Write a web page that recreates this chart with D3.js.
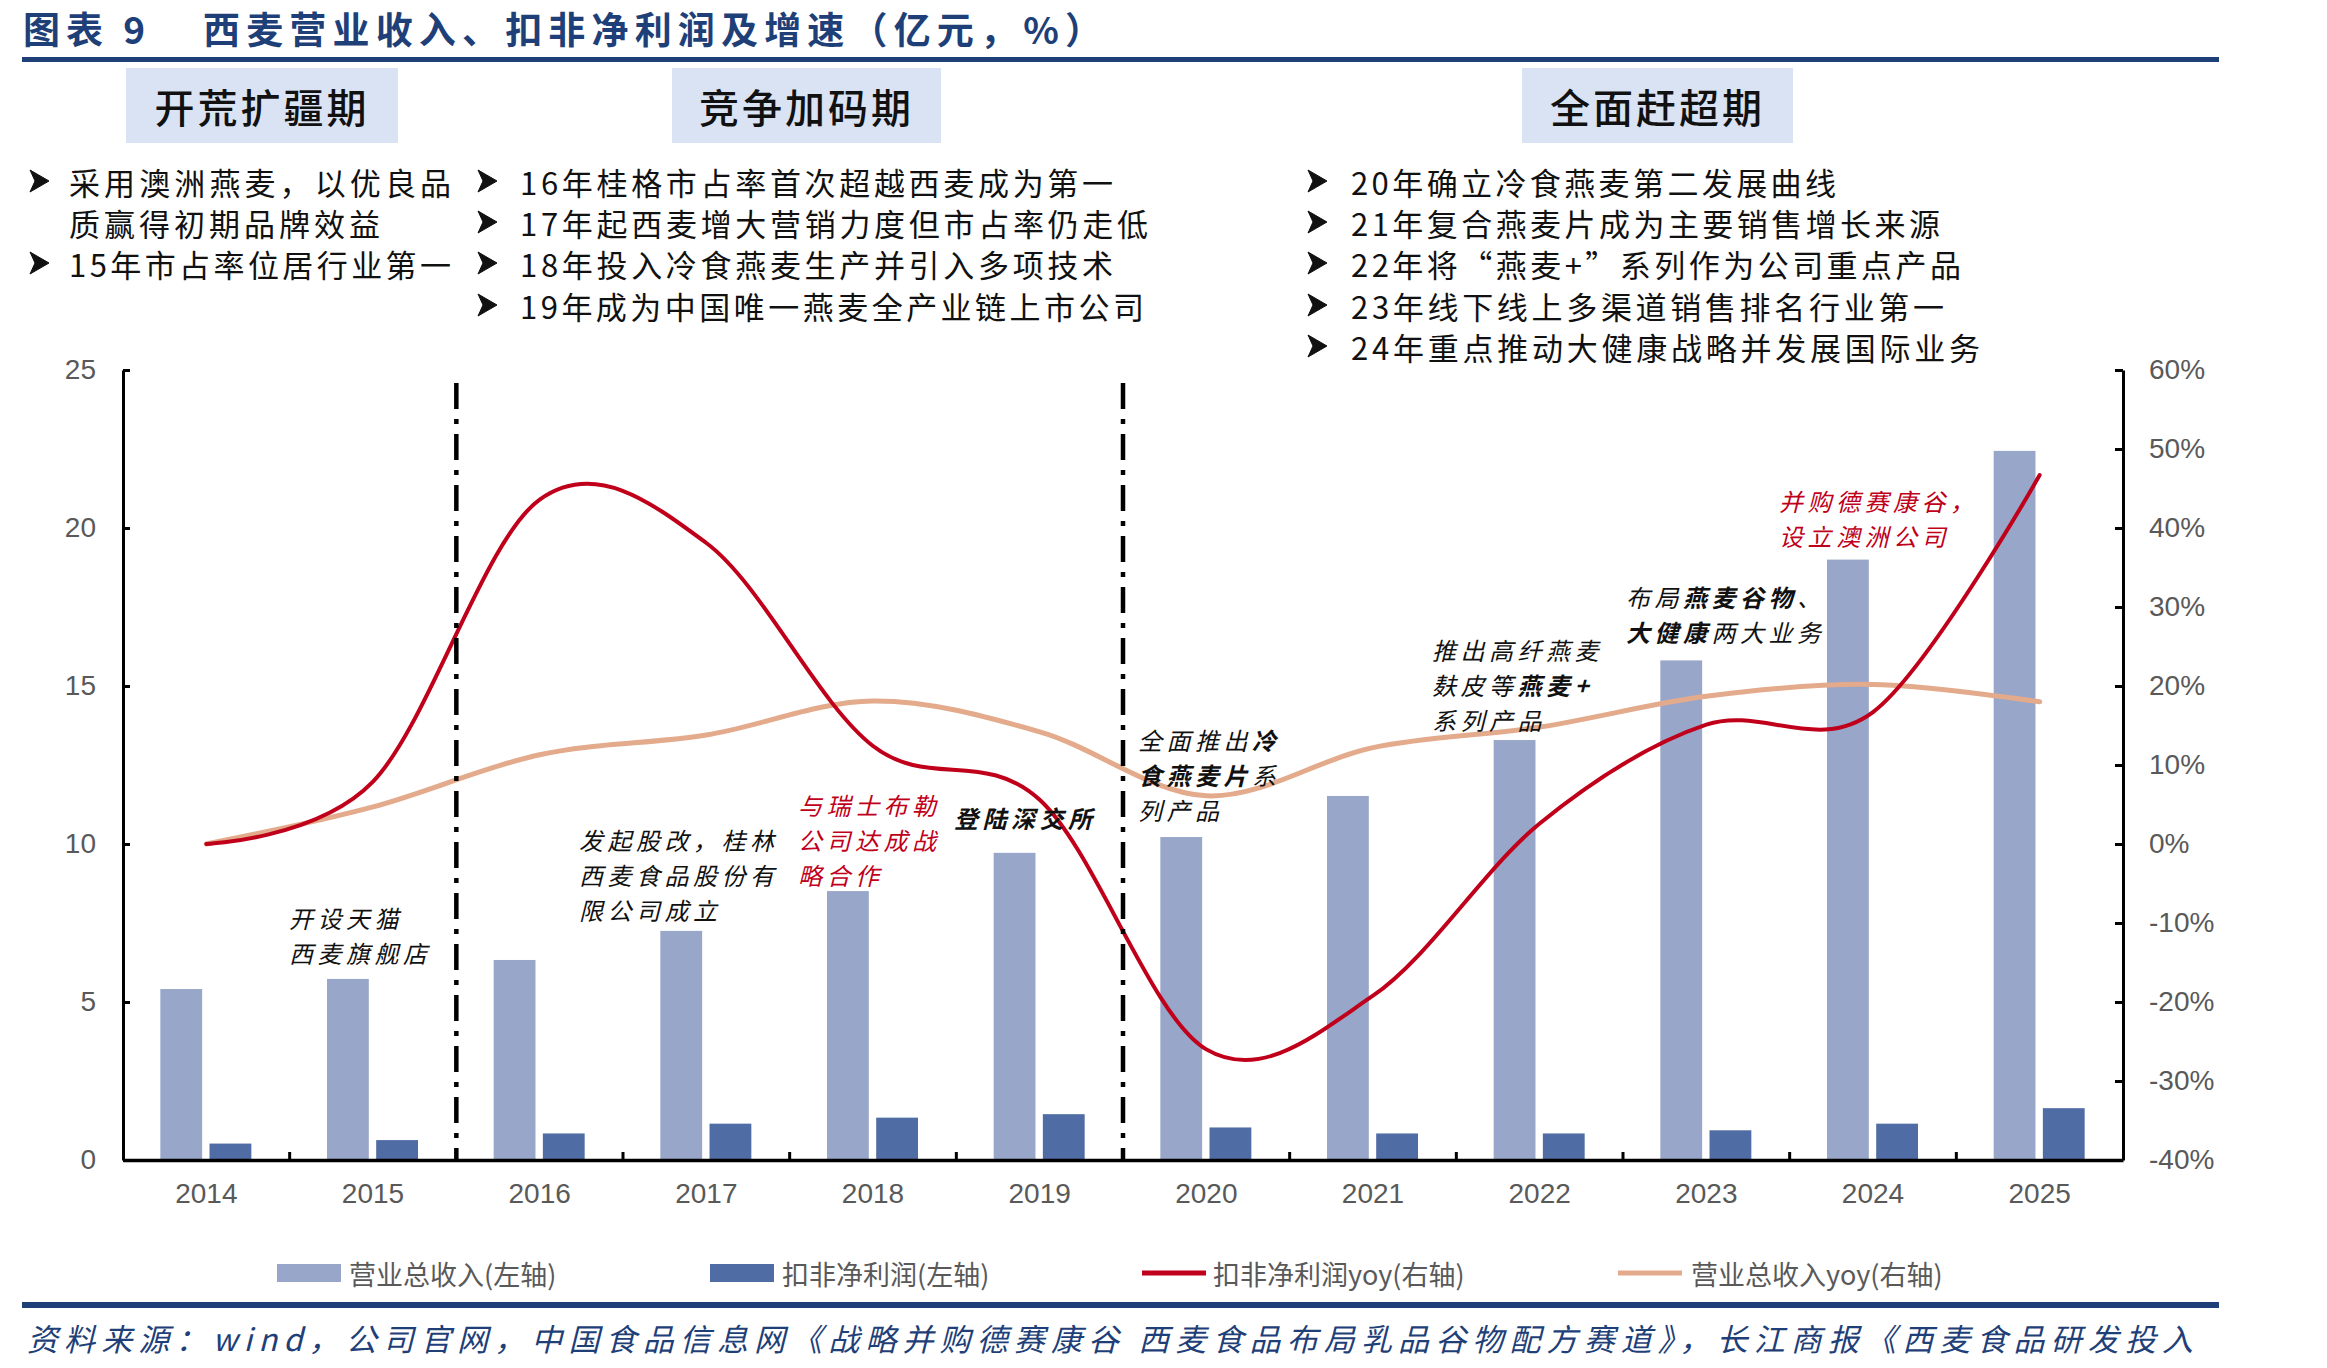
<!doctype html>
<html lang="zh">
<head>
  <meta charset="utf-8">
  <style>
    body {
      margin: 0;
      background-color: white;
    }
    svg {
      display: block;
      background-color: white;
    }
    .cjk {
      font-family: "Noto Sans CJK SC", sans-serif;
    }
    .axis text {
      font-family: "Liberation Sans", Arial, sans-serif;
      font-size: 28px;
      fill: #595959;
    }
    .axis path, .axis line {
      stroke: #000;
    }
  </style>
</head>
<body>
<script src="https://d3js.org/d3.v7.min.js"></script>
<script>
var width = 2327,
    height = 1368;

// chart values (亿元, %)
var years = ["2014", "2015", "2016", "2017", "2018", "2019", "2020", "2021", "2022", "2023", "2024", "2025"];
var revenue = [5.41, 5.73, 6.33, 7.25, 8.51, 9.72, 10.22, 11.52, 13.29, 15.81, 19.0, 22.44];
var netProfit = [0.52, 0.63, 0.84, 1.15, 1.34, 1.45, 1.03, 0.84, 0.84, 0.94, 1.15, 1.64];
var netProfitYoy = [0, 7.9, 43.6, 38.1, 12.4, 5.6, -26.0, -19.2, 2.6, 15.1, 16.7, 46.7];
var revenueYoy = [0, 4.7, 11.3, 13.8, 18.1, 14.2, 6.1, 12.2, 14.8, 18.7, 20.2, 18.0];

var leftTicks = [0, 5, 10, 15, 20, 25];
var rightTicks = [-40, -30, -20, -10, 0, 10, 20, 30, 40, 50, 60];

var seriesNames = ["营业总收入(左轴)", "扣非净利润(左轴)", "扣非净利润yoy(右轴)", "营业总收入yoy(右轴)"];

var titleLabel = "图表 9";
var titleText = "西麦营业收入、扣非净利润及增速（亿元，%）";
var sourceText = "资料来源：wind，公司官网，中国食品信息网《战略并购德赛康谷 西麦食品布局乳品谷物配方赛道》，长江商报《西麦食品研发投入";

var stages = ["开荒扩疆期", "竞争加码期", "全面赶超期"];
var stage1Lines = ["采用澳洲燕麦，以优良品", "质赢得初期品牌效益", "15年市占率位居行业第一"];
var stage2Lines = ["16年桂格市占率首次超越西麦成为第一", "17年起西麦增大营销力度但市占率仍走低",
  "18年投入冷食燕麦生产并引入多项技术", "19年成为中国唯一燕麦全产业链上市公司"];
var stage3Lines = ["20年确立冷食燕麦第二发展曲线", "21年复合燕麦片成为主要销售增长来源",
  "22年将“燕麦+”系列作为公司重点产品", "23年线下线上多渠道销售排名行业第一",
  "24年重点推动大健康战略并发展国际业务"];

var colors = {
  rev: "#97a6c9",
  np: "#506ca4",
  npYoy: "#c0001a",
  revYoy: "#e3aa8b",
  navy: "#1f3f78",
  gray: "#595959",
  box: "#dae3f3"
};

var svg = d3.select("body").append("svg")
  .attr("width", width)
  .attr("height", height);

// ---------- header ----------
svg.append("text")
  .attr("class", "cjk")
  .attr("x", 23).attr("y", 28)
  .attr("dominant-baseline", "central")
  .attr("font-size", 37).attr("font-weight", 700)
  .attr("fill", colors.navy)
  .attr("textLength", 122).attr("lengthAdjust", "spacing")
  .text(titleLabel);

svg.append("text")
  .attr("class", "cjk")
  .attr("x", 203).attr("y", 28)
  .attr("dominant-baseline", "central")
  .attr("font-size", 37).attr("font-weight", 700)
  .attr("fill", colors.navy)
  .attr("textLength", 899).attr("lengthAdjust", "spacing")
  .text(titleText);

svg.append("rect")
  .attr("x", 22).attr("y", 57)
  .attr("width", 2197).attr("height", 5)
  .attr("fill", colors.navy);

// stage boxes
var boxes = [[126, 272], [672, 269], [1522, 271]];
stages.forEach(function(s, i) {
  svg.append("rect")
    .attr("x", boxes[i][0]).attr("y", 68)
    .attr("width", boxes[i][1]).attr("height", 75)
    .attr("fill", colors.box);
  svg.append("text")
    .attr("class", "cjk")
    .attr("x", boxes[i][0] + boxes[i][1] / 2).attr("y", 106)
    .attr("text-anchor", "middle")
    .attr("dominant-baseline", "central")
    .attr("font-size", 40).attr("font-weight", 500)
    .attr("letter-spacing", 3)
    .attr("fill", "#111")
    .text(s);
});

// bullet lists
var rowY = [181, 222, 263, 305, 346];
function bulletList(lines, arrowX, textX, widths, noArrow) {
  lines.forEach(function(t, i) {
    if (!noArrow || noArrow.indexOf(i) < 0) {
      svg.append("path")
        .attr("transform", "translate(" + arrowX + "," + rowY[i] + ")")
        .attr("d", "M0,-11L19,0L0,11L5,0Z")
        .attr("fill", "#111")
        .attr("stroke", "#111")
        .attr("stroke-width", 1);
    }
    svg.append("text")
      .attr("class", "cjk")
      .attr("x", textX).attr("y", rowY[i])
      .attr("dominant-baseline", "central")
      .attr("font-size", 31)
      .attr("fill", "#111")
      .attr("textLength", widths[i]).attr("lengthAdjust", "spacing")
      .text(t);
  });
}
bulletList(stage1Lines, 30, 69, [382, 311, 382], [1]);
bulletList(stage2Lines, 478, 520, [593, 628, 593, 624]);
bulletList(stage3Lines, 1308, 1351, [485, 589, 610, 593, 629]);

// ---------- chart ----------
var plotLeft = 123, plotRight = 2123, plotTop = 370, plotBottom = 1160;

var x = d3.scaleBand().domain(years).range([plotLeft, plotRight]).padding(0);
var x1 = d3.scaleBand().domain(["rev", "np"])
  .range([x.bandwidth() / 2 - 46, x.bandwidth() / 2 + 45])
  .paddingInner(0.15);
var yL = d3.scaleLinear().domain([0, 25]).range([plotBottom, plotTop]);
var yR = d3.scaleLinear().domain([-40, 60]).range([plotBottom, plotTop]);

var rows = years.map(function(y, i) {
  return { year: y, rev: revenue[i], np: netProfit[i], npYoy: netProfitYoy[i], revYoy: revenueYoy[i] };
});

var g = svg.append("g");

// bars
g.append("g").selectAll("rect")
  .data(rows).enter().append("rect")
  .attr("x", function(d) { return x(d.year) + x1("rev"); })
  .attr("y", function(d) { return yL(d.rev); })
  .attr("width", x1.bandwidth())
  .attr("height", function(d) { return yL(0) - yL(d.rev); })
  .attr("fill", colors.rev);

g.append("g").selectAll("rect")
  .data(rows).enter().append("rect")
  .attr("x", function(d) { return x(d.year) + x1("np"); })
  .attr("y", function(d) { return yL(d.np); })
  .attr("width", x1.bandwidth())
  .attr("height", function(d) { return yL(0) - yL(d.np); })
  .attr("fill", colors.np);

// smoothed yoy lines (excel style smoothing ~ catmull-rom)
function yoyLine(key) {
  return d3.line()
    .x(function(d) { return x(d.year) + x.bandwidth() / 2; })
    .y(function(d) { return yR(d[key]); })
    .curve(d3.curveCardinal.tension(0));
}

g.append("path")
  .datum(rows)
  .attr("d", yoyLine("revYoy"))
  .attr("fill", "none")
  .attr("stroke", colors.revYoy)
  .attr("stroke-width", 5)
  .attr("stroke-linecap", "round");

g.append("path")
  .datum(rows)
  .attr("d", yoyLine("npYoy"))
  .attr("fill", "none")
  .attr("stroke", colors.npYoy)
  .attr("stroke-width", 4)
  .attr("stroke-linecap", "round");

// stage dividers
[2, 6].forEach(function(i) {
  var xd = x(years[i]);
  g.append("line")
    .attr("x1", xd).attr("x2", xd)
    .attr("y1", 383).attr("y2", plotBottom)
    .attr("stroke", "#000")
    .attr("stroke-width", 4.5)
    .attr("stroke-dasharray", "26,10,5,10");
});

// axes
var axL = d3.axisLeft(yL).tickValues(leftTicks).tickSizeInner(-7).tickSizeOuter(0).tickPadding(27);
var axR = d3.axisRight(yR).tickValues(rightTicks).tickFormat(function(d) { return d + "%"; })
  .tickSizeInner(-8).tickSizeOuter(0).tickPadding(26);
var axB = d3.axisBottom(x).tickSize(0).tickPadding(23);

svg.append("g").attr("class", "axis")
  .attr("transform", "translate(" + plotLeft + ",0)")
  .call(axL)
  .call(function(s) { s.select(".domain").attr("stroke-width", 3); s.selectAll("line").attr("stroke-width", 3); });

svg.append("g").attr("class", "axis")
  .attr("transform", "translate(" + plotRight + ",0)")
  .call(axR)
  .call(function(s) { s.select(".domain").attr("stroke-width", 3); s.selectAll("line").attr("stroke-width", 3); });

var xAxisG = svg.append("g").attr("class", "axis")
  .attr("transform", "translate(0," + plotBottom + ")")
  .call(axB)
  .call(function(s) { s.select(".domain").attr("stroke-width", 3.5); });

// category boundary ticks
xAxisG.selectAll(".bound")
  .data(years.slice(1)).enter().append("line")
  .attr("class", "bound")
  .attr("x1", function(d) { return x(d); })
  .attr("x2", function(d) { return x(d); })
  .attr("y1", 0).attr("y2", -8)
  .attr("stroke", "#000")
  .attr("stroke-width", 3);

// ---------- annotations ----------
var notes = [
  { x: 289, y: 917, color: "#111", lines: [[["开设天猫", 0]], [["西麦旗舰店", 0]]] },
  { x: 579, y: 839, color: "#111", lines: [[["发起股改，桂林", 0]], [["西麦食品股份有", 0]], [["限公司成立", 0]]] },
  { x: 798, y: 804, color: colors.npYoy, lines: [[["与瑞士布勒", 0]], [["公司达成战", 0]], [["略合作", 0]]] },
  { x: 954, y: 817, color: "#111", lines: [[["登陆深交所", 1]]] },
  { x: 1138, y: 739, color: "#111", lines: [[["全面推出", 0], ["冷", 1]], [["食燕麦片", 1], ["系", 0]], [["列产品", 0]]] },
  { x: 1432, y: 649, color: "#111", lines: [[["推出高纤燕麦", 0]], [["麸皮等", 0], ["燕麦+", 1]], [["系列产品", 0]]] },
  { x: 1626, y: 596, color: "#111", lines: [[["布局", 0], ["燕麦谷物", 1], ["、", 0]], [["大健康", 1], ["两大业务", 0]]] },
  { x: 1779, y: 500, color: colors.npYoy, lines: [[["并购德赛康谷，", 0]], [["设立澳洲公司", 0]]] }
];

// each run is its own text, placed after the previous one
notes.forEach(function(n) {
  n.lines.forEach(function(parts, li) {
    var cx = n.x;
    parts.forEach(function(p) {
      var t = svg.append("text")
        .attr("class", "cjk")
        .attr("x", cx).attr("y", n.y + li * 35)
        .attr("dominant-baseline", "central")
        .attr("font-size", 24)
        .attr("font-style", "italic")
        .attr("font-weight", p[1] ? 700 : 400)
        .attr("letter-spacing", 4.5)
        .attr("fill", n.color)
        .text(p[0]);
      cx += t.node().getComputedTextLength();
    });
  });
});

// ---------- legend ----------
var legendY = 1273;
var legendItems = [
  { x: 277, type: "rect", color: colors.rev, tx: 349 },
  { x: 710, type: "rect", color: colors.np, tx: 782 },
  { x: 1142, type: "line", color: colors.npYoy, tx: 1213 },
  { x: 1618, type: "line", color: colors.revYoy, tx: 1691 }
];
legendItems.forEach(function(d, i) {
  if (d.type === "rect") {
    svg.append("rect")
      .attr("x", d.x).attr("y", legendY - 9)
      .attr("width", 64).attr("height", 18)
      .attr("fill", d.color);
  } else {
    svg.append("line")
      .attr("x1", d.x).attr("x2", d.x + 64)
      .attr("y1", legendY).attr("y2", legendY)
      .attr("stroke", d.color)
      .attr("stroke-width", 5);
  }
  svg.append("text")
    .attr("class", "cjk")
    .attr("x", d.tx).attr("y", legendY)
    .attr("dominant-baseline", "central")
    .attr("font-size", 27)
    .attr("fill", colors.gray)
    .text(seriesNames[i]);
});

// ---------- footer ----------
svg.append("rect")
  .attr("x", 22).attr("y", 1302)
  .attr("width", 2197).attr("height", 6)
  .attr("fill", colors.navy);

svg.append("text")
  .attr("class", "cjk")
  .attr("x", 27).attr("y", 1337)
  .attr("dominant-baseline", "central")
  .attr("font-size", 31)
  .attr("font-style", "italic")
  .attr("fill", colors.navy)
  .attr("textLength", 2166).attr("lengthAdjust", "spacing")
  .text(sourceText);
</script>
</body>
</html>
